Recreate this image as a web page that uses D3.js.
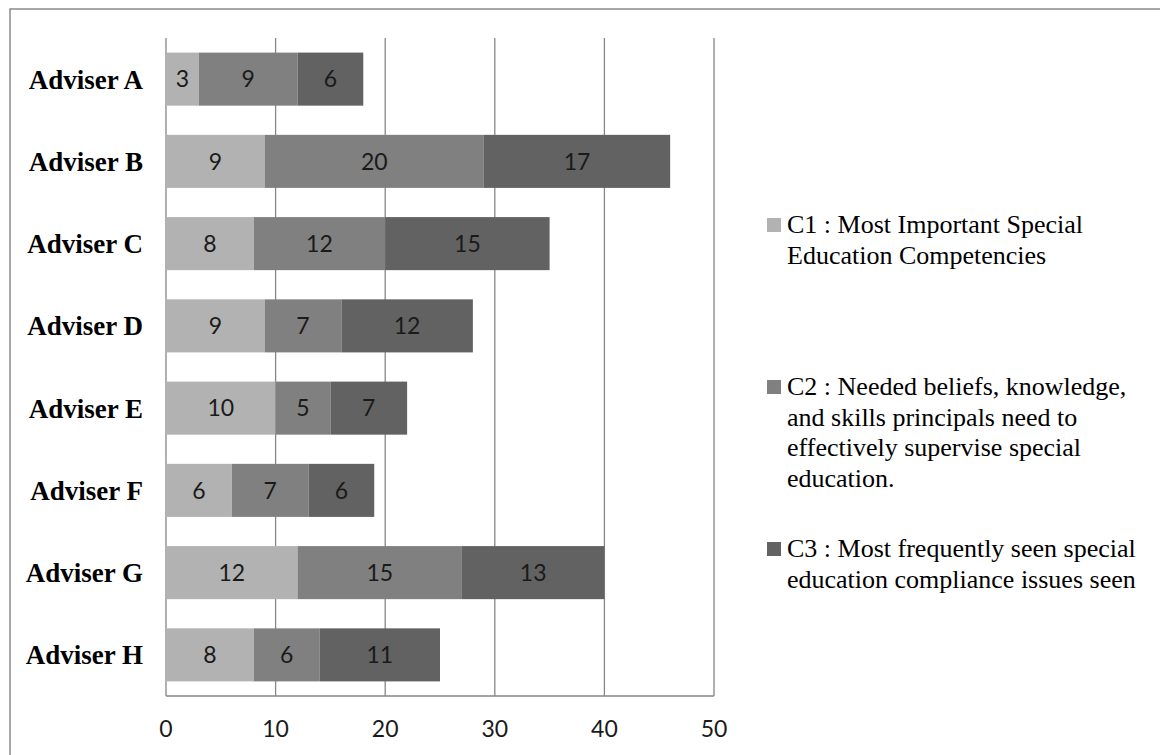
<!DOCTYPE html>
<html>
<head>
<meta charset="utf-8">
<script src="https://cdn.jsdelivr.net/npm/d3@7"></script>
<style>
  html, body { margin: 0; padding: 0; background: #fff; }
</style>
</head>
<body>
<svg id="chart" width="1160" height="755"></svg>
<script>
// chart data
const advisers = ['Adviser A', 'Adviser B', 'Adviser C', 'Adviser D', 'Adviser E', 'Adviser F', 'Adviser G', 'Adviser H']
const c1Values = [3, 9, 8, 9, 10, 6, 12, 8]
const c2Values = [9, 20, 12, 7, 5, 7, 15, 6]
const c3Values = [6, 17, 15, 12, 7, 6, 13, 11]
const seriesKeys = ['C1', 'C2', 'C3']
const legendLines = [
  ['C1 : Most Important Special', 'Education Competencies'],
  ['C2 : Needed beliefs, knowledge,', 'and skills principals need to', 'effectively supervise special', 'education.'],
  ['C3 : Most frequently seen special', 'education compliance issues seen']
]
const xTicks = [0, 10, 20, 30, 40, 50]

const colors = {C1: '#b2b2b2', C2: '#808080', C3: '#626262'}

const svg = d3.select('#chart')

// outer frame (runs off the right and bottom edge like the picture)
svg.append('rect')
  .attr('x', 10)
  .attr('y', 9)
  .attr('width', 1170)
  .attr('height', 780)
  .attr('fill', 'none')
  .attr('stroke', '#8a8a8a')
  .attr('stroke-width', 1.5)

// build table for stacking
const table = advisers.map((name, i) => ({
  name: name,
  C1: c1Values[i],
  C2: c2Values[i],
  C3: c3Values[i]
}))

const stacked = d3.stack().keys(seriesKeys)(table)

const plot = {left: 166, right: 714, top: 38, bottom: 696}

const x = d3.scaleLinear()
  .domain([0, 50])
  .range([plot.left, plot.right])

const y = d3.scaleBand()
  .domain(advisers)
  .range([plot.top, plot.bottom])
  .paddingInner(0.355)
  .paddingOuter(0.1775)

// vertical gridlines
svg.append('g')
  .selectAll('line')
  .data(xTicks)
  .enter()
  .append('line')
  .attr('x1', d => x(d))
  .attr('x2', d => x(d))
  .attr('y1', plot.top)
  .attr('y2', plot.bottom)
  .attr('stroke', '#868686')
  .attr('stroke-width', 1.3)

// bottom axis line
svg.append('line')
  .attr('x1', plot.left)
  .attr('x2', plot.right)
  .attr('y1', plot.bottom)
  .attr('y2', plot.bottom)
  .attr('stroke', '#868686')
  .attr('stroke-width', 1.3)

// bars
const layers = svg.append('g')
  .selectAll('g')
  .data(stacked)
  .enter()
  .append('g')
  .attr('fill', d => colors[d.key])

layers.selectAll('rect')
  .data(d => d)
  .enter()
  .append('rect')
  .attr('x', d => x(d[0]))
  .attr('y', d => y(d.data.name))
  .attr('width', d => x(d[1]) - x(d[0]))
  .attr('height', y.bandwidth())

// value labels in the middle of each segment
layers.selectAll('text')
  .data(d => d)
  .enter()
  .append('text')
  .attr('x', d => (x(d[0]) + x(d[1])) / 2)
  .attr('y', d => y(d.data.name) + y.bandwidth() / 2)
  .attr('dy', '0.36em')
  .attr('text-anchor', 'middle')
  .attr('font-family', 'Lato, "Open Sans", sans-serif')
  .attr('font-size', 23)
  .attr('fill', '#1a1a1a')
  .text(d => d[1] - d[0])

// category labels
svg.append('g')
  .selectAll('text')
  .data(advisers)
  .enter()
  .append('text')
  .attr('x', 143)
  .attr('y', d => y(d) + y.bandwidth() / 2)
  .attr('dy', '0.35em')
  .attr('text-anchor', 'end')
  .attr('font-family', '"Liberation Serif", "Times New Roman", serif')
  .attr('font-weight', 'bold')
  .attr('font-size', 27)
  .attr('fill', '#000')
  .text(d => d)

// x tick labels
svg.append('g')
  .selectAll('text')
  .data(xTicks)
  .enter()
  .append('text')
  .attr('x', d => x(d))
  .attr('y', 737)
  .attr('text-anchor', 'middle')
  .attr('font-family', 'Lato, "Open Sans", sans-serif')
  .attr('font-size', 23)
  .attr('fill', '#1a1a1a')
  .text(d => d)

// legend, baselines of the first line of each entry
const legendBase = [233, 395, 557]
const legendG = svg.selectAll('.legend')
  .data(seriesKeys)
  .enter()
  .append('g')
  .attr('class', 'legend')
  .attr('transform', (d, i) => `translate(767, ${legendBase[i]})`)

legendG.append('rect')
  .attr('x', 0)
  .attr('y', -15)
  .attr('width', 14)
  .attr('height', 14)
  .attr('fill', d => colors[d])

legendG.append('text')
  .attr('font-family', '"Liberation Serif", "Times New Roman", serif')
  .attr('font-size', 26)
  .attr('fill', '#000')
  .selectAll('tspan')
  .data((d, i) => legendLines[i])
  .enter()
  .append('tspan')
  .attr('x', 20)
  .attr('y', (d, i) => i * 30.5)
  .text(d => d)
</script>
</body>
</html>
